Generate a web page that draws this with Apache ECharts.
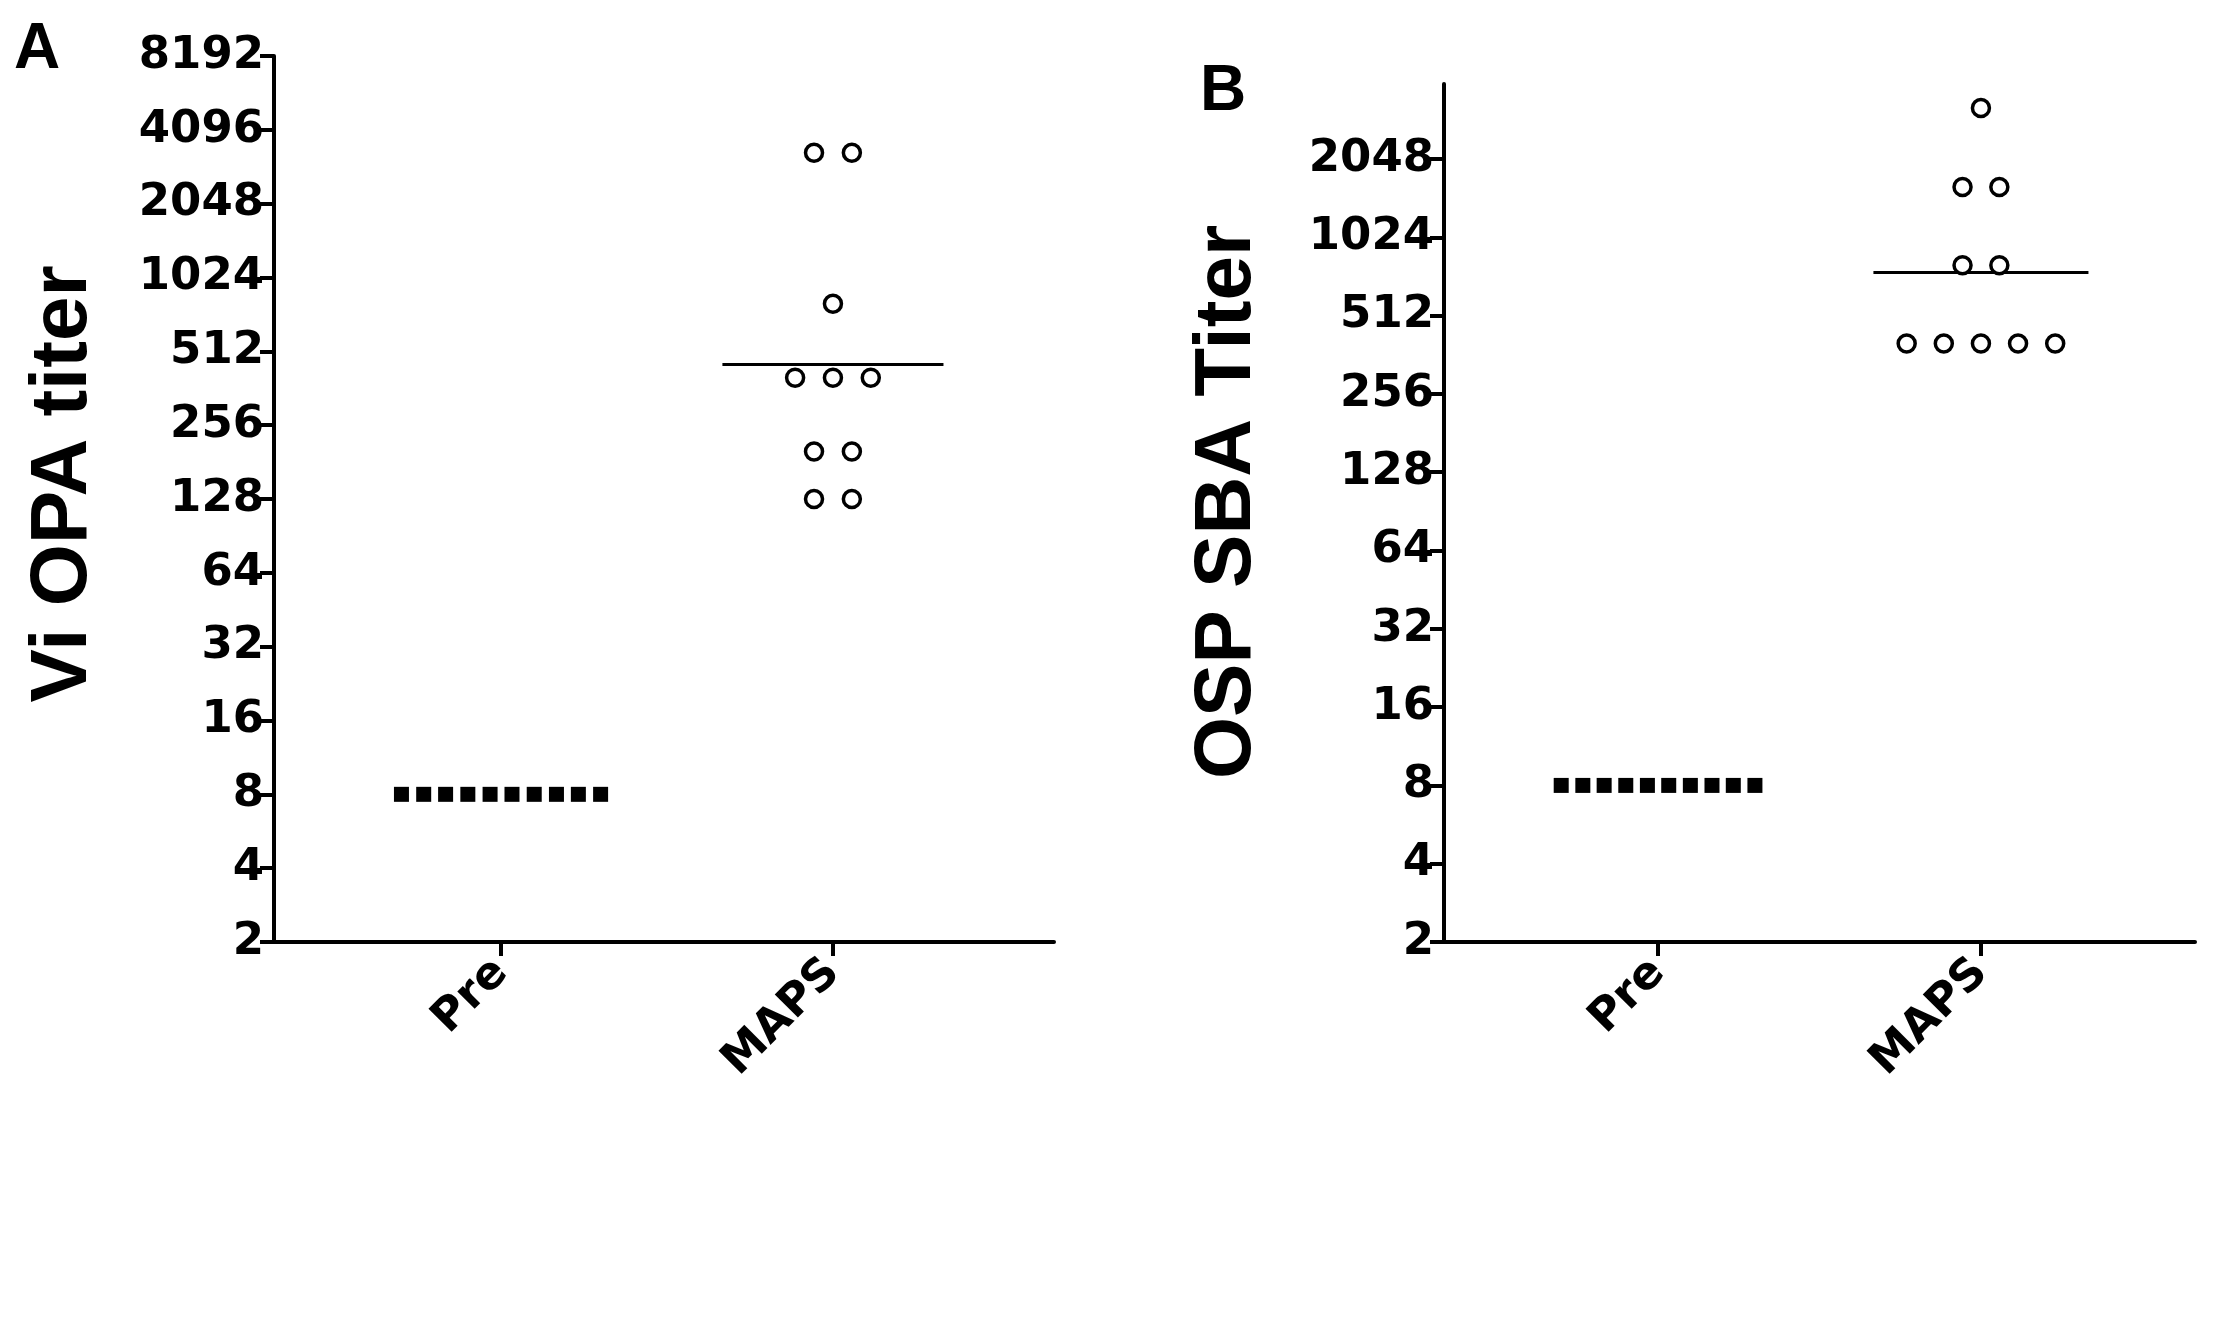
<!DOCTYPE html>
<html><head><meta charset="utf-8">
<script src="https://cdn.jsdelivr.net/npm/echarts@6/dist/echarts.min.js"></script>
<style>html,body{margin:0;padding:0;background:#fff}#c{width:2223px;height:1332px}</style>
</head><body><div id="c"></div>
<script>
const categories = ['Pre', 'MAPS'];
// Panel A: Vi OPA titer
const aPreX = [0.70,0.767,0.833,0.90,0.967,1.033,1.10,1.167,1.233,1.30];
const aPreY = [8,8,8,8,8,8,8,8,8,8];
const aMapsX = [1.943,2.057,2.0,1.886,2.0,2.114,1.943,2.057,1.943,2.057];
const aMapsY = [3300,3300,800,400,400,400,200,200,128,128];
const aMean = 452;
// Panel B: OSP SBA titer
const bPreX = [0.70,0.767,0.833,0.90,0.967,1.033,1.10,1.167,1.233,1.30];
const bPreY = [8,8,8,8,8,8,8,8,8,8];
const bMapsX = [2.0,1.943,2.057,1.943,2.057,1.77,1.885,2.0,2.115,2.23];
const bMapsY = [3220,1600,1600,800,800,400,400,400,400,400];
const bMean = 750;
const aTicks = [2,4,8,16,32,64,128,256,512,1024,2048,4096,8192];
const bTicks = [2,4,8,16,32,64,128,256,512,1024,2048];

const chart = echarts.init(document.getElementById('c'));
const tickFont = {fontFamily:'DejaVu Sans', fontWeight:'bold', fontSize:45, color:'#000'};
function xAx(idx, min, max){
  return {type:'value', gridIndex:idx, min:min, max:max,
    axisLine:{show:true, onZero:false, lineStyle:{color:'#000', width:4}},
    splitLine:{show:false},
    axisTick:{show:true, customValues:[1,2], length:14, lineStyle:{color:'#000', width:4}},
    axisLabel:{customValues:[1,2], rotate:45, margin:24, formatter:v=>categories[Math.round(v)-1]||'', ...tickFont}};
}
function yAx(idx, max, ticks){
  return {type:'log', logBase:2, gridIndex:idx, min:2, max:max,
    axisLine:{show:true, lineStyle:{color:'#000', width:4}},
    splitLine:{show:false},
    axisTick:{show:true, customValues:ticks, length:14, lineStyle:{color:'#000', width:4}},
    axisLabel:{customValues:ticks, margin:10, formatter:v=>String(Math.round(v)), ...tickFont}};
}
function zip(xs, ys){ return xs.map((x,i)=>[x, ys[i]]); }
const preStyle = {type:'scatter', symbol:'rect', symbolSize:15, itemStyle:{color:'#000', opacity:1}};
const mapsStyle = {type:'scatter', symbol:'circle', symbolSize:17, itemStyle:{color:'#fff', borderColor:'#000', borderWidth:3.5, opacity:1}};
function meanLine(idx, m){
  return {type:'line', xAxisIndex:idx, yAxisIndex:idx, symbol:'none', data:[[1.667,m],[2.333,m]],
    lineStyle:{color:'#000', width:3}, silent:true, z:1};
}
chart.setOption({
  animation:false,
  backgroundColor:'#fff',
  grid:[{left:274, top:56, right:1169, bottom:390},{left:1444, top:84, right:28, bottom:390}],
  xAxis:[xAx(0,0.316,2.666), xAx(1,0.337,2.663)],
  yAxis:[yAx(0,8192,aTicks), yAx(1,3980,bTicks)],
  series:[
    {...preStyle, xAxisIndex:0, yAxisIndex:0, data:zip(aPreX,aPreY)},
    meanLine(0, aMean),
    {...mapsStyle, xAxisIndex:0, yAxisIndex:0, data:zip(aMapsX,aMapsY), z:3},
    {...preStyle, xAxisIndex:1, yAxisIndex:1, data:zip(bPreX,bPreY)},
    meanLine(1, bMean),
    {...mapsStyle, xAxisIndex:1, yAxisIndex:1, data:zip(bMapsX,bMapsY), z:3}
  ],
  graphic:[
    {type:'text', x:14, y:18, style:{text:'A', fontFamily:'Liberation Sans', fontWeight:'bold', fontSize:64, fill:'#000'}},
    {type:'text', x:1200, y:60, style:{text:'B', fontFamily:'Liberation Sans', fontWeight:'bold', fontSize:64, fill:'#000'}},
    {type:'text', x:64, y:484, rotation:Math.PI/2, style:{text:'Vi OPA titer', fontFamily:'Liberation Sans', fontWeight:'bold', fontSize:80, fill:'#000', align:'center', verticalAlign:'middle'}},
    {type:'text', x:1228, y:502, rotation:Math.PI/2, style:{text:'OSP SBA Titer', fontFamily:'Liberation Sans', fontWeight:'bold', fontSize:80, fill:'#000', align:'center', verticalAlign:'middle'}}
  ]
});
</script></body></html>
